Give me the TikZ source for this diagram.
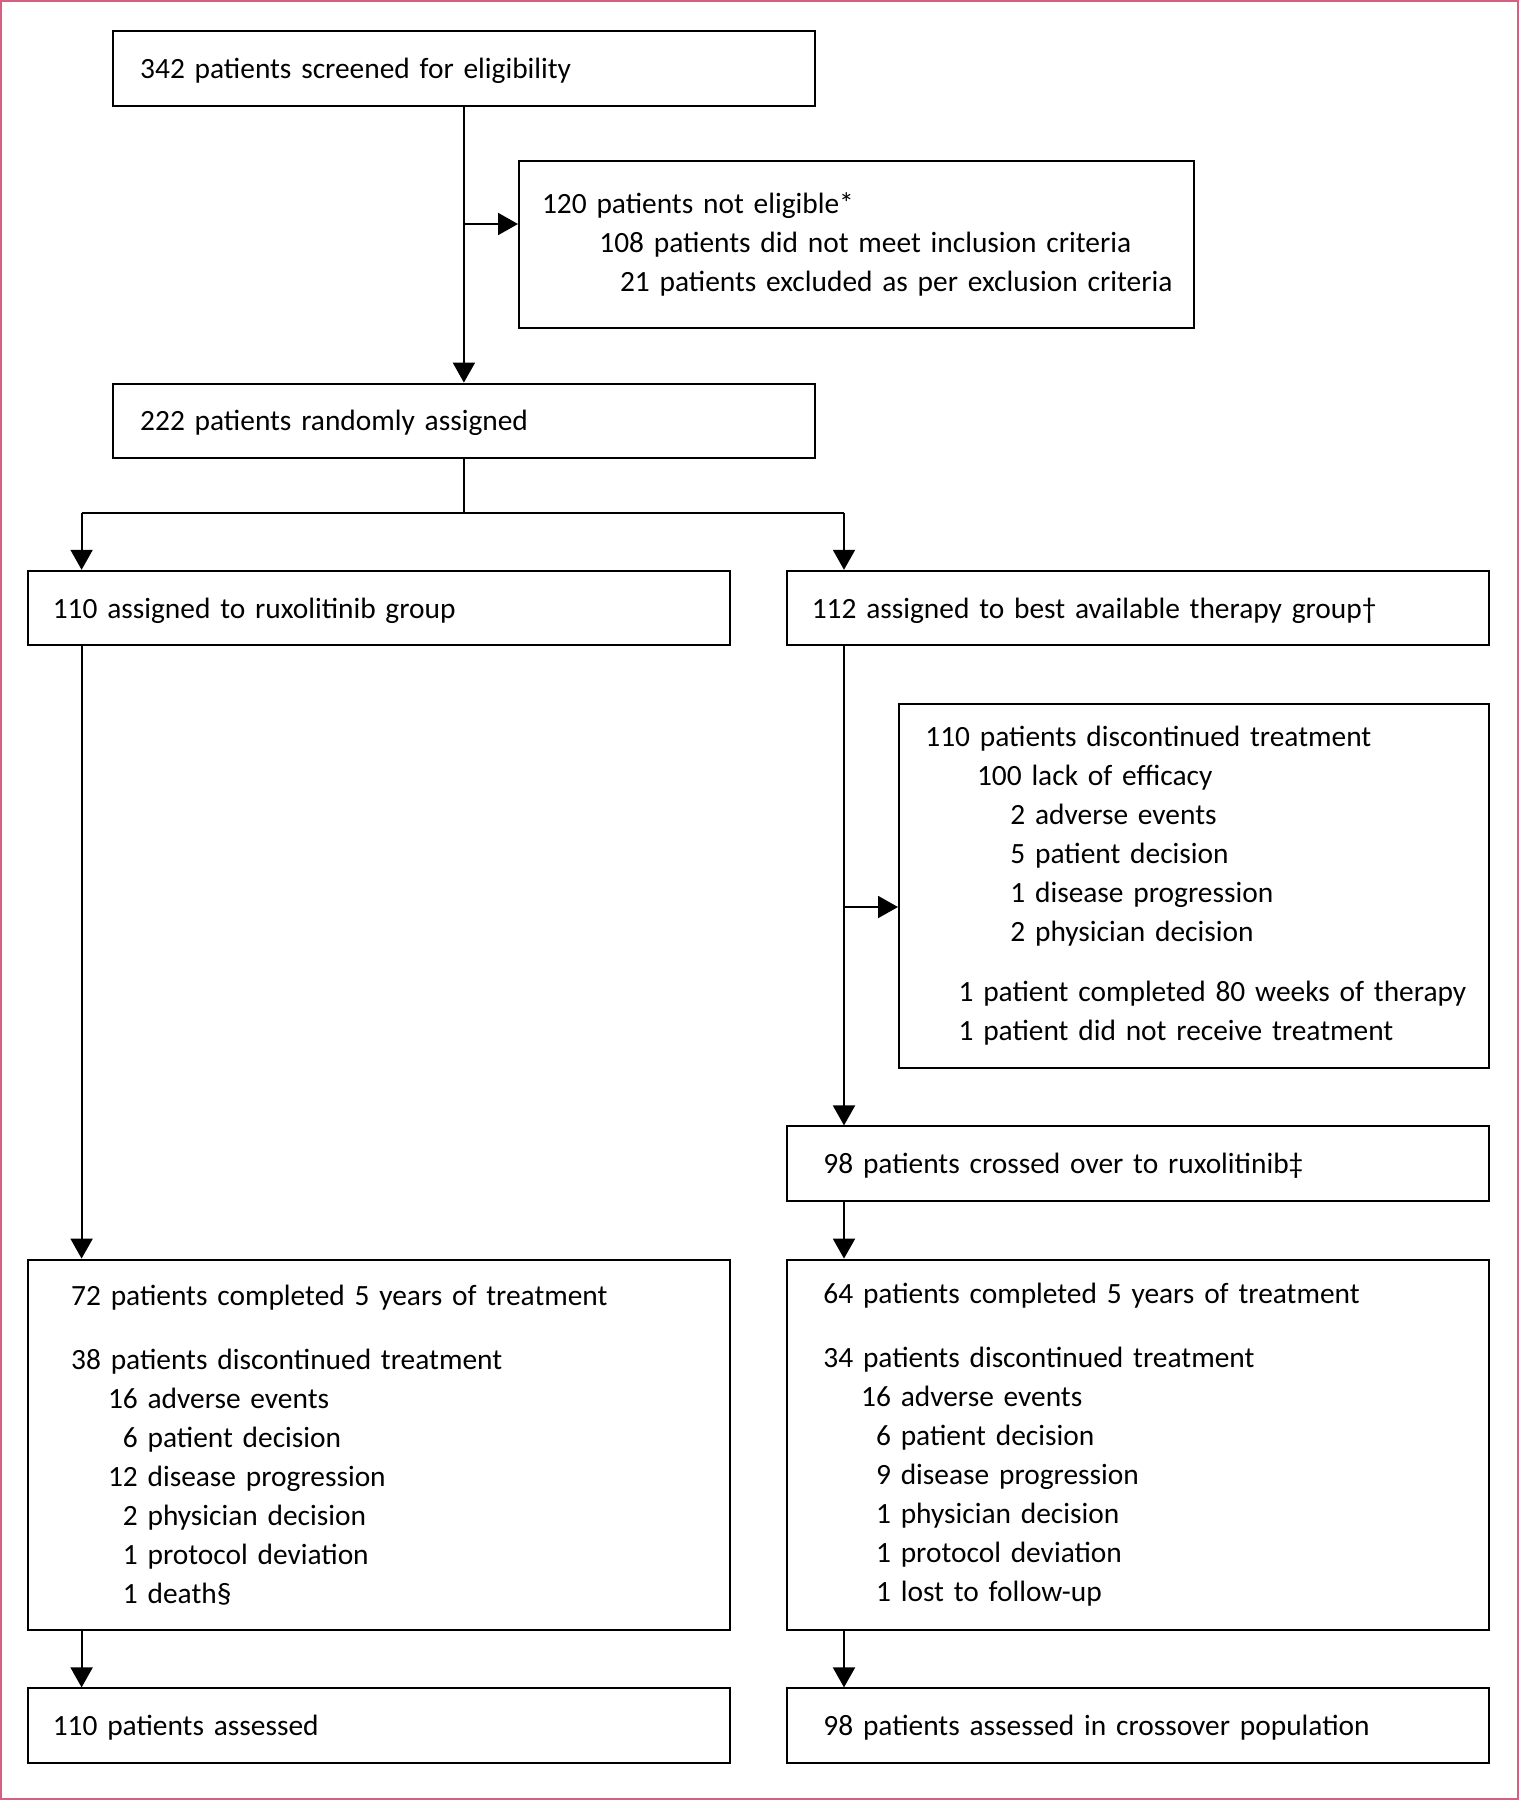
\documentclass[tikz,border=0pt]{standalone}
\usepackage{fontspec}
\setmainfont{Carlito}
\usepackage{tikz}
\usetikzlibrary{arrows.meta}
\definecolor{frame}{RGB}{214, 96, 130}

\begin{document}
\begin{tikzpicture}[
  box/.style={draw=black, line width=1pt, rectangle, align=left, inner sep=0pt,
    minimum height=37.3pt, text width=351.3pt, font=\fontsize{14.7pt}{19.5pt}\selectfont},
  pad/.style={execute at begin node={\leftskip=#1}},
  onebox/.style={box, text depth=0.3pt},
  arr/.style={line width=1pt, -{Triangle[length=10pt, width=11pt]}},
  link/.style={line width=1pt}]
\useasboundingbox (0pt, 0pt) rectangle (759.5pt, -900pt);
\draw [line width=1.2pt, color=frame] (0.6pt, -0.6pt) rectangle (758.9pt, -899.4pt);
\node (1) [onebox, pad=13.8pt] at (231.95pt, -34.15pt) {342 patients screened for eligibility};
\node (2) [box, text width=337.6pt, pad=11.5pt, minimum height=83.8pt] at (428.3pt, -122.3pt)
  {120 patients not eligible*\\
   \hspace*{28.7pt}108 patients did not meet inclusion criteria\\
   \hspace*{39.0pt}21 patients excluded as per exclusion criteria};
\node (3) [onebox, pad=13.8pt] at (231.95pt, -210.45pt) {222 patients randomly assigned};
\node (4) [onebox, pad=12.6pt] at (189.45pt, -304.05pt) {110 assigned to ruxolitinib group};
\node (5) [onebox, pad=12.6pt] at (568.95pt, -304.05pt) {112 assigned to best available therapy group†};
\node (6) [box, text width=295.1pt, pad=13.2pt, minimum height=182pt] at (597.05pt, -442.9pt)
  {110 patients discontinued treatment\\
   \hspace*{25.8pt}100 lack of efficacy\\
   \hspace*{42.5pt}2 adverse events\\
   \hspace*{42.5pt}5 patient decision\\
   \hspace*{42.5pt}1 disease progression\\
   \hspace*{42.5pt}2 physician decision\\[10.3pt]
   \hspace*{16.6pt}1 patient completed 80 weeks of therapy\\
   \hspace*{16.6pt}1 patient did not receive treatment};
\node (7) [onebox, pad=18.4pt] at (568.95pt, -581.85pt) {98 patients crossed over to ruxolitinib‡};
\node (8) [box, pad=21.8pt, minimum height=185.4pt] at (189.45pt, -722.5pt)
  {72 patients completed 5 years of treatment\\[12.6pt]
   38 patients discontinued treatment\\
   \hspace*{18.4pt}16 adverse events\\
   \hspace*{18.4pt}\phantom{1}6 patient decision\\
   \hspace*{18.4pt}12 disease progression\\
   \hspace*{18.4pt}\phantom{1}2 physician decision\\
   \hspace*{18.4pt}\phantom{1}1 protocol deviation\\
   \hspace*{18.4pt}\phantom{1}1 death§};
\node (9) [box, pad=18.4pt, minimum height=185.4pt] at (568.95pt, -722.5pt)
  {64 patients completed 5 years of treatment\\[12.6pt]
   34 patients discontinued treatment\\
   \hspace*{18.9pt}16 adverse events\\
   \hspace*{18.9pt}\phantom{1}6 patient decision\\
   \hspace*{18.9pt}\phantom{1}9 disease progression\\
   \hspace*{18.9pt}\phantom{1}1 physician decision\\
   \hspace*{18.9pt}\phantom{1}1 protocol deviation\\
   \hspace*{18.9pt}\phantom{1}1 lost to follow-up};
\node (10) [onebox, pad=12.6pt] at (189.45pt, -862.85pt) {110 patients assessed};
\node (11) [onebox, pad=18.4pt] at (568.95pt, -862.85pt) {98 patients assessed in crossover population};
\coordinate (b1) at (231.95pt, -112pt);
\coordinate (jc) at (231.95pt, -256.6pt);
\coordinate (jl) at (40.8pt, -256.6pt);
\coordinate (jr) at (422pt, -256.6pt);
\coordinate (b2) at (422pt, -453.5pt);
\draw [arr] (1) -- (3);
\draw [arr] (b1) -- (b1 -| 2.west);
\draw [link] (3) -- (jc);
\draw [link] (jl) -- (jr);
\draw [arr] (jl) -- (jl |- 4.north);
\draw [arr] (jr) -- (jr |- 5.north);
\draw [arr] (jl |- 4.south) -- (jl |- 8.north);
\draw [arr] (jr |- 5.south) -- (jr |- 7.north);
\draw [arr] (b2) -- (b2 -| 6.west);
\draw [arr] (jr |- 7.south) -- (jr |- 9.north);
\draw [arr] (jl |- 8.south) -- (jl |- 10.north);
\draw [arr] (jr |- 9.south) -- (jr |- 11.north);
\end{tikzpicture}
\end{document}
